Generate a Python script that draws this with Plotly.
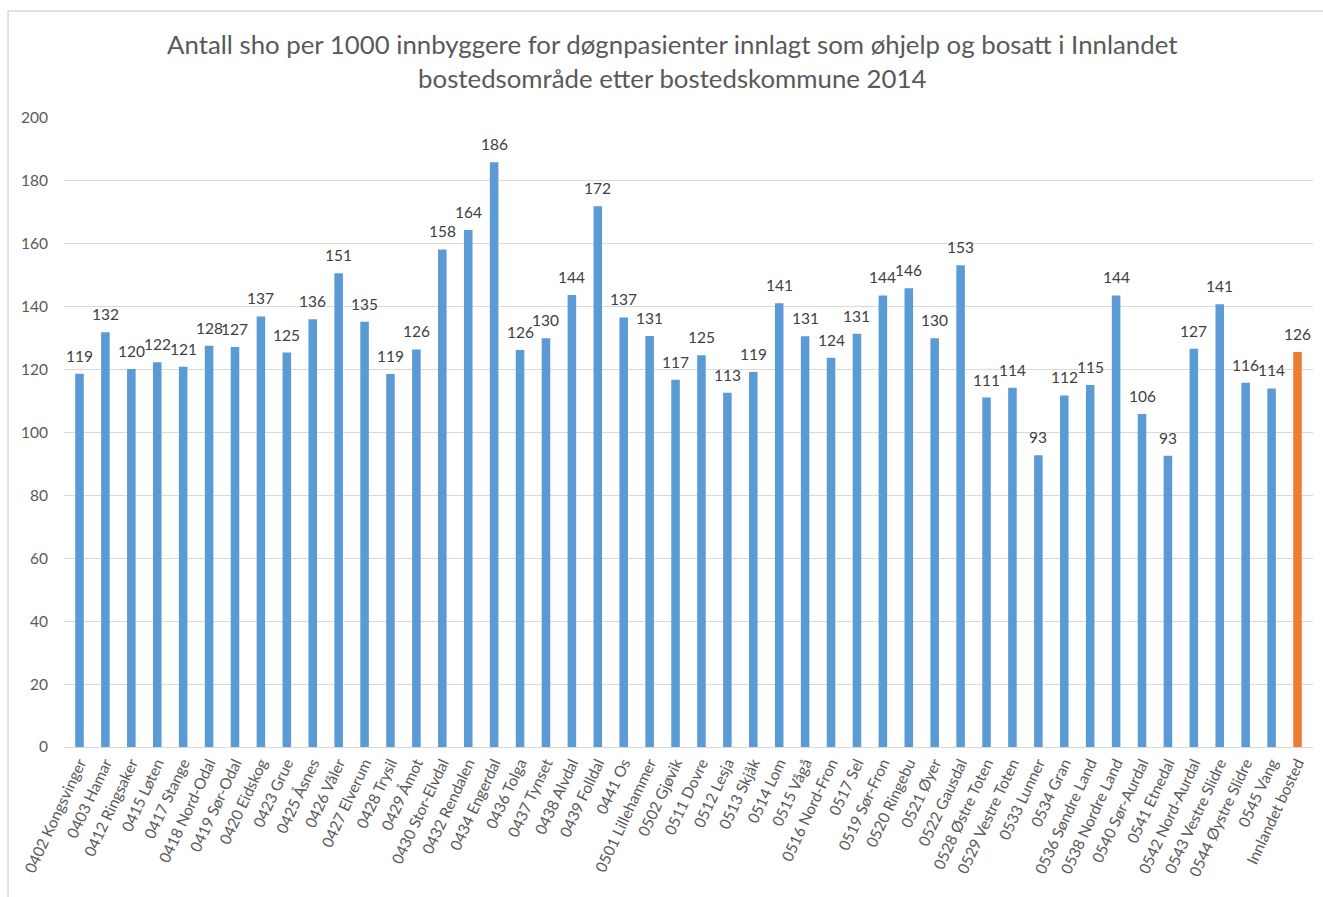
import plotly.graph_objects as go

categories = [
    "0402 Kongsvinger", "0403 Hamar", "0412 Ringsaker", "0415 Løten", "0417 Stange",
    "0418 Nord-Odal", "0419 Sør-Odal", "0420 Eidskog", "0423 Grue", "0425 Åsnes",
    "0426 Våler", "0427 Elverum", "0428 Trysil", "0429 Åmot", "0430 Stor-Elvdal",
    "0432 Rendalen", "0434 Engerdal", "0436 Tolga", "0437 Tynset", "0438 Alvdal",
    "0439 Folldal", "0441 Os", "0501 Lillehammer", "0502 Gjøvik", "0511 Dovre",
    "0512 Lesja", "0513 Skjåk", "0514 Lom", "0515 Vågå", "0516 Nord-Fron",
    "0517 Sel", "0519 Sør-Fron", "0520 Ringebu", "0521 Øyer", "0522 Gausdal",
    "0528 Østre Toten", "0529 Vestre Toten", "0533 Lunner", "0534 Gran", "0536 Søndre Land",
    "0538 Nordre Land", "0540 Sør-Aurdal", "0541 Etnedal", "0542 Nord-Aurdal", "0543 Vestre Slidre",
    "0544 Øystre Slidre", "0545 Vang", "Innlandet bosted",
]

values = [
    118.7, 131.9, 120.2, 122.3, 120.9,
    127.6, 127.2, 136.9, 125.4, 136.0,
    150.6, 135.2, 118.6, 126.4, 158.2,
    164.4, 185.9, 126.2, 130.0, 143.7,
    171.9, 136.6, 130.7, 116.8, 124.6,
    112.6, 119.2, 141.1, 130.6, 123.8,
    131.4, 143.6, 145.9, 130.0, 153.2,
    111.1, 114.2, 92.8, 111.8, 115.1,
    143.6, 105.9, 92.6, 126.6, 140.8,
    115.8, 114.0, 125.6,
]

bar_colors = ["#5B9BD5"] * (len(categories) - 1) + ["#ED7D31"]

title_lines = [
    "Antall sho per 1000 innbyggere for døgnpasienter innlagt som øhjelp og bosatt i Innlandet",
    "bostedsområde etter bostedskommune 2014",
]

FONT = "Lato, 'Open Sans', sans-serif"

fig = go.Figure()
fig.add_trace(go.Bar(
    x=categories,
    y=values,
    marker=dict(color=bar_colors, line=dict(width=0)),
    hoverinfo="x+y",
))

annotations = []
for c, v in zip(categories, values):
    annotations.append(dict(
        x=c, y=v, xref="x", yref="y",
        text=f"{round(v):d}",
        showarrow=False, xanchor="center", yanchor="bottom", yshift=7,
        font=dict(family=FONT, size=15.5, color="#404040"),
    ))

annotations.append(dict(
    x=0.487, y=1.0906, xref="paper", yref="paper",
    text="<br>".join(title_lines),
    showarrow=False, xanchor="center", yanchor="middle",
    font=dict(family=FONT, size=25.8, color="#595959"),
))

fig.update_layout(
    width=1323, height=897,
    margin=dict(l=64, r=10, t=118, b=150),
    paper_bgcolor="white",
    plot_bgcolor="white",
    bargap=0.67,
    showlegend=False,
    font=dict(family=FONT, color="#595959"),
    xaxis=dict(
        type="category",
        tickangle=-65,
        tickfont=dict(family=FONT, size=15.5, color="#595959"),
        showline=True, linecolor="#D9D9D9", linewidth=1,
        showgrid=False, ticks="",
    ),
    yaxis=dict(
        range=[0, 200], dtick=20,
        tickfont=dict(family=FONT, size=15.5, color="#595959"),
        showgrid=True, gridcolor="#D9D9D9", gridwidth=1,
        zeroline=False, showline=False, ticks="",
        ticklabelstandoff=15,
    ),
    annotations=annotations,
    shapes=[dict(
        type="rect", xref="paper", yref="paper",
        x0=-0.0448, x1=1.02, y0=-0.3, y1=1.170,
        line=dict(color="#D9D9D9", width=1.5),
        fillcolor="rgba(0,0,0,0)", layer="above",
    )],
)

fig.write_html("out.html")
